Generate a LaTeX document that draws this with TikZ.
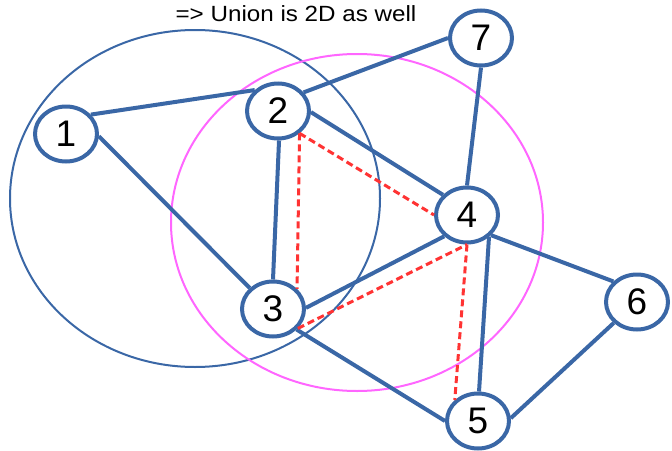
\documentclass[tikz,border=0pt]{standalone}
\usepackage{fontspec}
\setmainfont{Liberation Sans}
\usetikzlibrary{shapes.geometric}
\definecolor{nblue}{RGB}{58,103,166}
\definecolor{npink}{RGB}{255,102,255}
\definecolor{nred}{RGB}{255,51,51}
\tikzset{
  vtx/.style={ellipse, draw=nblue, line width=4pt, fill=white,
    minimum width=62pt, minimum height=55pt, inner sep=0pt,
    font=\fontsize{37}{37}\selectfont},
  gedge/.style={draw=nblue, line width=4pt},
  rdash/.style={draw=nred, line width=3pt, dash pattern=on 7pt off 4pt},
  bigblue/.style={draw=nblue, line width=2pt},
  bigpink/.style={draw=npink, line width=2pt},
}
\begin{document}
\begin{tikzpicture}[x=1pt,y=-1pt]
\useasboundingbox (0,0) rectangle (672,450);
\clip (0,0) rectangle (672,450);
% subspace ellipses
\draw[bigblue] (195,198.5) ellipse [x radius=185pt, y radius=168.5pt];
\draw[bigpink] (357,222.5) ellipse [x radius=186pt, y radius=168.5pt];
% title
\node[font=\fontsize{22}{22}\selectfont, xscale=1.1] (title) at (296,13.5) {=> Union is 2D as well};
% vertices
\node[vtx] (n1) at (66,134) {1};
\node[vtx] (n2) at (278,111) {2};
\node[vtx] (n7) at (481,38) {7};
\node[vtx] (n4) at (467,215) {4};
\node[vtx] (n3) at (273,309) {3};
\node[vtx] (n6) at (637,302) {6};
\node[vtx] (n5) at (478,421) {5};
% edges
\draw[gedge] (n1.38) -- (n2.138);
\draw[gedge] (n1.-4) -- (n3.138);
\draw[gedge] (n2.-88) -- (n3.90);
\draw[gedge] (n2.36) -- (n7.180);
\draw[gedge] (n2.-2) -- (n4.140);
\draw[gedge] (n7.-90) -- (n4.90);
\draw[gedge] (n3.2) -- (n4.-137);
\draw[gedge] (n3.-41) -- (n5.180);
\draw[gedge] (n4.-45) -- (n5.88);
\draw[gedge] (n4.-40) -- (n6.139);
\draw[gedge] (n5.5) -- (n6.-138);
% dashed triangles
\draw[rdash] (n2.-46) -- (n3.40);
\draw[rdash] (n2.-46) -- (n4.180);
\draw[rdash] (n3.-38) -- (n4.-90);
\draw[rdash] (n4.-90) -- (n5.138);
\end{tikzpicture}
\end{document}
